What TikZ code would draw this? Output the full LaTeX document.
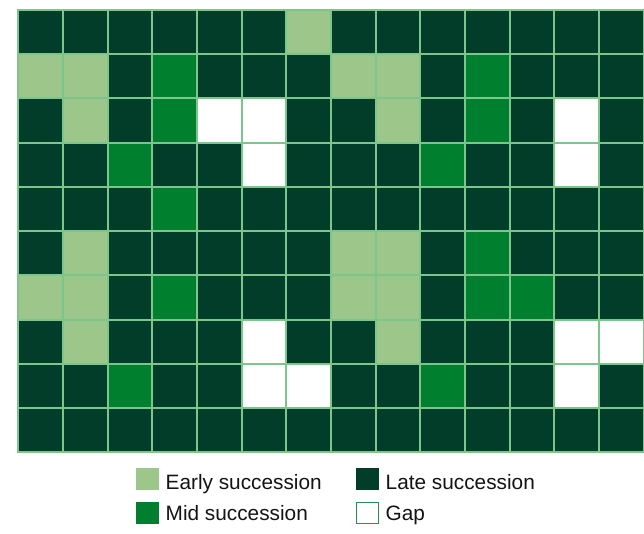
\documentclass[tikz,border=0pt]{standalone}
\usepackage{fontspec}
\setmainfont{Liberation Sans}
\definecolor{late}{HTML}{013D29}
\definecolor{mid}{HTML}{00802F}
\definecolor{early}{HTML}{9DC78A}
\definecolor{gapc}{HTML}{FFFFFF}
\definecolor{gridc}{HTML}{7CC68C}
\definecolor{gapedge}{HTML}{2E8B5A}
\definecolor{txt}{HTML}{141414}
\begin{document}
\begin{tikzpicture}[x=1pt,y=-1pt,
  gridline/.style={draw=gridc,line width=2pt},
  swatch/.style={draw,line width=1pt,minimum width=22pt,minimum height=21.5pt,inner sep=0pt},
  legtext/.style={anchor=base west,inner sep=0pt,text=txt,font=\fontsize{20.8}{24}\selectfont}]
\useasboundingbox[fill=white] (0,0) rectangle (644,533);
\def\gx{18.3}\def\gy{10}\def\cw{44.66}\def\ch{44.23}
% base: late succession
\fill[late] (\gx,\gy) rectangle ++(14*\cw,10*\ch);
% early succession cells (row/col)
\foreach \r/\c in {0/6,1/0,1/1,1/7,1/8,2/1,2/8,5/1,5/7,5/8,6/0,6/1,6/7,6/8,7/1,7/8}
  \fill[early] ({\gx+\c*\cw},{\gy+\r*\ch}) rectangle ++(\cw,\ch);
% mid succession cells
\foreach \r/\c in {1/3,1/10,2/3,2/10,3/2,3/9,4/3,5/10,6/3,6/10,6/11,8/2,8/9}
  \fill[mid] ({\gx+\c*\cw},{\gy+\r*\ch}) rectangle ++(\cw,\ch);
% gaps
\foreach \r/\c in {2/4,2/5,2/12,3/5,3/12,7/5,7/12,7/13,8/5,8/6,8/12}
  \fill[gapc] ({\gx+\c*\cw},{\gy+\r*\ch}) rectangle ++(\cw,\ch);
% grid lines
\foreach \k in {0,...,14}
  \draw[gridline] ({\gx+\k*\cw},{\gy-1}) -- ++(0,10*\ch+2);
\foreach \k in {0,...,10}
  \draw[gridline] ({\gx-1},{\gy+\k*\ch}) -- ++(14*\cw+2,0);
% legend
\node[swatch,draw=early,fill=early] (sE) at (147.7,478.8) {};
\node[legtext] (tE) at (165.5,489.3) {Early succession};
\node[swatch,draw=mid,fill=mid] (sM) at (147.7,513) {};
\node[legtext] (tM) at (165.5,520.5) {Mid succession};
\node[swatch,draw=late,fill=late] (sL) at (367.7,478.8) {};
\node[legtext] (tL) at (385.5,489.3) {Late succession};
\node[swatch,draw=gapedge,fill=white] (sG) at (367.7,513) {};
\node[legtext] (tG) at (385.5,520.5) {Gap};
\end{tikzpicture}
\end{document}
